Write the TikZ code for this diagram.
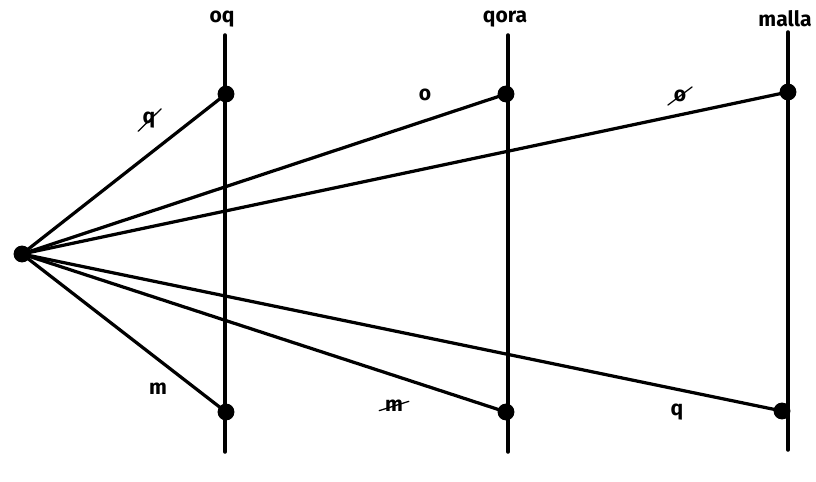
\documentclass[tikz,border=0pt]{standalone}
\usepackage{fontspec}
\setmainfont{Fira Sans}
\begin{document}
\begin{tikzpicture}[x={(0.025cm,0)}, y={(0,-0.025cm)}, line join=round, line cap=round,
			font=\fontsize{15}{17}\selectfont\bfseries,
			ray/.style={line width=2.3pt},
			pole/.style={line width=2.5pt},
			dot/.style={circle, fill=black, inner sep=0pt, minimum size=12pt},
			lbl/.style={inner sep=1pt},
			strike/.style={line width=0.9pt}]
			\useasboundingbox (0,0) rectangle (816,481);
			% vertical lines and their names
			\coordinate (t1) at (225,35); \coordinate (b1) at (225,452);
			\coordinate (t2) at (508,35); \coordinate (b2) at (508,452);
			\coordinate (t3) at (788,32); \coordinate (b3) at (788,450);
			\draw[pole] (t1)--(b1); \draw[pole] (t2)--(b2); \draw[pole] (t3)--(b3);
			\node[lbl] (oq) at (222,19) {oq};
			\node[lbl] (qora) at (505,19) {qora};
			\node[lbl] (malla) at (785,19) {malla};
			% points
			\node[dot] (o) at (22,254) {};
			\node[dot] (a1) at (226,94) {}; \node[dot] (a2) at (506,94) {}; \node[dot] (a3) at (788,92) {};
			\node[dot] (c1) at (226,412) {}; \node[dot] (c2) at (506,412) {}; \node[dot] (c3) at (782,411) {};
			\draw[ray] (o.center)--(a1.center); \draw[ray] (o.center)--(a2.center); \draw[ray] (o.center)--(a3.center);
			\draw[ray] (o.center)--(c1.center); \draw[ray] (o.center)--(c2.center); \draw[ray] (o.center)--(c3.center);
			% labels on the rays
			\node[lbl] (l1) at (149,120) {q};
			\node[lbl] (l2) at (425,95) {o};
			\node[lbl] (l3) at (680,96) {o};
			\node[lbl] (l4) at (158,389) {m};
			\node[lbl] (l5) at (394,406) {m};
			\node[lbl] (l6) at (677,412) {q};
			\draw[strike] ([xshift=-2pt,yshift=-1pt]l1.south west)--([xshift=3pt,yshift=1pt]l1.north east);
			\draw[strike] ([xshift=-3pt,yshift=-1pt]l3.south west)--([xshift=3pt,yshift=1pt]l3.north east);
			\draw[strike] ([xshift=-3pt,yshift=2pt]l5.south west)--([xshift=3pt,yshift=-2pt]l5.north east);
		\end{tikzpicture}
\end{document}
